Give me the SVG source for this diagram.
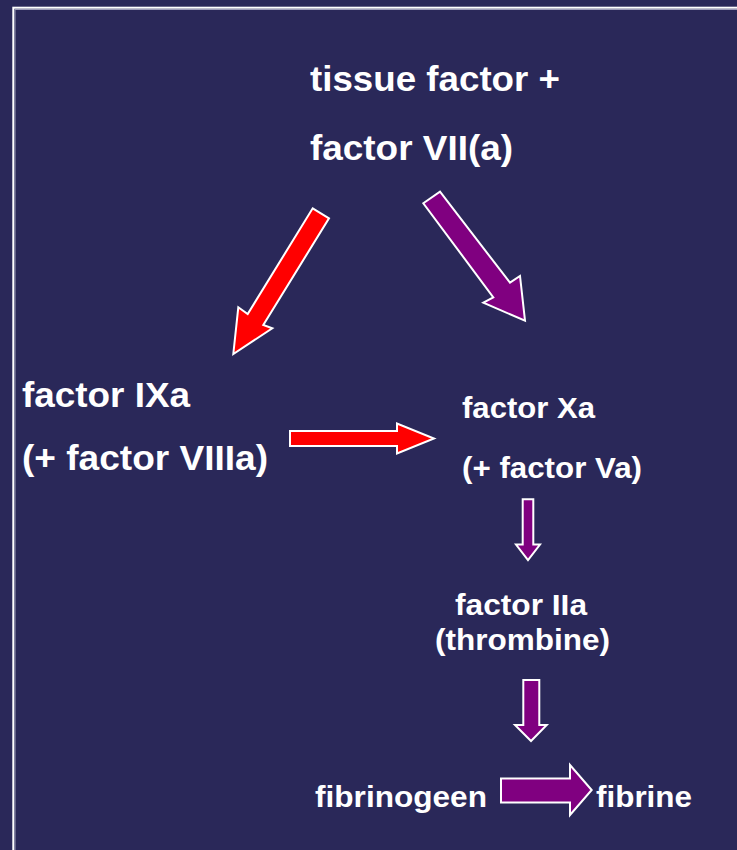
<svg xmlns="http://www.w3.org/2000/svg" width="737" height="850" viewBox="0 0 737 850">
  <style>
    .lbl { font-family: "Liberation Sans", Arial, sans-serif; font-weight: bold; fill: #ffffff; }
    .big { font-size: 35px; }
    .mid { font-size: 30px; }
    .red { fill: #ff0000; stroke: #ffffff; stroke-width: 2; stroke-linejoin: miter; }
    .pur { fill: #800080; stroke: #ffffff; stroke-width: 2; stroke-linejoin: miter; }
  </style>
  <rect x="0" y="0" width="737" height="850" fill="#2a2859"/>
  <!-- slide frame -->
  <rect x="13.3" y="7.7" width="760" height="860" fill="none" stroke="#ffffff" stroke-width="2"/>
  <rect x="15" y="9.5" width="760" height="860" fill="none" stroke="#9c9bb8" stroke-width="1"/>

  <g id="n-tf">
    <text class="lbl big" x="310" y="91" textLength="250" lengthAdjust="spacingAndGlyphs">tissue factor +</text>
    <text class="lbl big" x="310" y="160" textLength="203" lengthAdjust="spacingAndGlyphs">factor VII(a)</text>
  </g>
  <g id="n-ixa">
    <text class="lbl big" x="22" y="407" textLength="168" lengthAdjust="spacingAndGlyphs">factor IXa</text>
    <text class="lbl big" x="22" y="470" textLength="246" lengthAdjust="spacingAndGlyphs">(+ factor VIIIa)</text>
  </g>
  <g id="n-xa">
    <text class="lbl mid" x="462" y="418" textLength="133" lengthAdjust="spacingAndGlyphs">factor Xa</text>
    <text class="lbl mid" x="462" y="478" textLength="180" lengthAdjust="spacingAndGlyphs">(+ factor Va)</text>
  </g>
  <g id="n-iia">
    <text class="lbl mid" x="455" y="615" textLength="132" lengthAdjust="spacingAndGlyphs">factor IIa</text>
    <text class="lbl mid" x="435" y="650" textLength="175" lengthAdjust="spacingAndGlyphs">(thrombine)</text>
  </g>
  <g id="n-fibrinogeen">
    <text class="lbl mid" x="315" y="807" textLength="172" lengthAdjust="spacingAndGlyphs">fibrinogeen</text>
  </g>
  <g id="n-fibrine">
    <text class="lbl mid" x="596" y="807" textLength="96" lengthAdjust="spacingAndGlyphs">fibrine</text>
  </g>

  <g id="connectors">
    <polygon class="red" points="312.7,208.3 329,218.3 263.3,325 272.3,328.3 233.3,354 238.3,307.3 247.7,314"/>
    <polygon class="pur" points="423.3,203.3 440,191.7 510,282.7 520,276 525,320.7 483.3,302.7 493.3,297.3"/>
    <polygon class="red" points="290,431 397,431 397,423.5 434,438.5 397,453.5 397,446 290,446"/>
    <polygon class="pur" points="522.7,499.3 533.3,499.3 533.3,544.5 540,544.5 528,560 516,544.5 522.7,544.5"/>
    <polygon class="pur" points="523.3,680 539.3,680 539.3,725 546.7,725 531,741 515,725 523.3,725"/>
    <polygon class="pur" points="501,778.5 570,778.5 570,765 591.7,790 570,815 570,802.5 501,802.5"/>
  </g>
</svg>
